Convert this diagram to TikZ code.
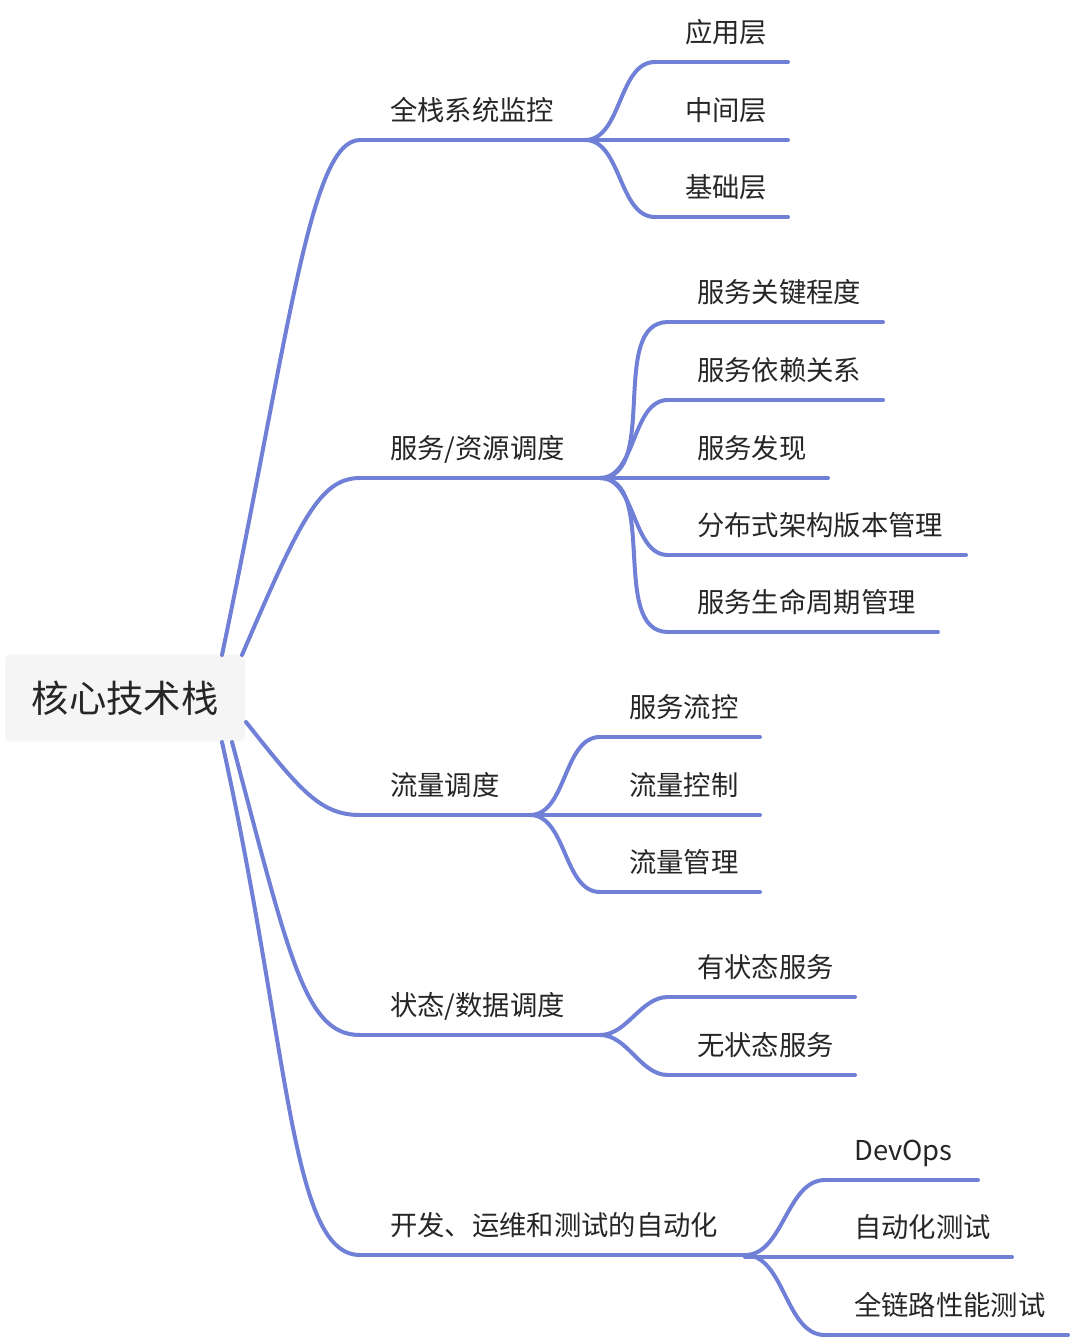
\documentclass[tikz,border=0pt]{standalone}
\usepackage{fontspec}
\setmainfont{Noto Sans CJK SC}
\definecolor{lineColor}{RGB}{112,128,214}
\definecolor{rootFill}{RGB}{245,245,245}
\tikzset{
  edge/.style = {color=lineColor, line width=3pt, line cap=round},
  itemText/.style = {font=\fontsize{20.5}{24}\selectfont, anchor=base west, inner sep=0pt, text=black!85},
  rootBox/.style = {fill=rootFill, rounded corners=4pt, font=\fontsize{28}{32}\selectfont, text=black!85}
}
% #1 name, #2 label, #3 x start, #4 x end, #5 y, #6 text x
\newcommand{\branch}[6]{
  \coordinate (#1-s) at (#3,#5);
  \coordinate (#1-e) at (#4,#5);
  \node [itemText] (#1) at (#6, #5 - 20) {#2};
  \draw [edge] (#1-s) -- (#1-e);
}
\newcommand{\link}[2]{\draw [edge] (#1-e) to[out=0, in=180, looseness=0.9] (#2-s);}
\begin{document}
\begin{tikzpicture}[x=0.75pt, y=-0.75pt]
  \useasboundingbox (0,0) rectangle (1070,1340);
  \node [rootBox, minimum width=180pt, minimum height=65pt] (root) at (125,698) {核心技术栈};

  % level one
  \branch{mon}{全栈系统监控}{360}{585}{140}{390}
  \branch{svc}{服务/资源调度}{360}{600}{478}{390}
  \branch{flow}{流量调度}{360}{530}{815}{390}
  \branch{state}{状态/数据调度}{360}{600}{1035}{390}
  \branch{auto}{开发、运维和测试的自动化}{360}{745}{1255}{390}

  \coordinate (r1) at (222,655);
  \coordinate (r2) at (242,655);
  \coordinate (r3) at (246,722);
  \coordinate (r4) at (232,742);
  \coordinate (r5) at (222,742);
  \draw [edge] (r1) .. controls (290,330) and (310,140) .. (mon-s);
  \draw [edge] (r2) .. controls (300,520) and (320,478) .. (svc-s);
  \draw [edge] (r3) .. controls (300,790) and (320,815) .. (flow-s);
  \draw [edge] (r4) .. controls (290,960) and (305,1035) .. (state-s);
  \draw [edge] (r5) .. controls (290,1050) and (290,1255) .. (auto-s);

  % level two
  \branch{app}{应用层}{655}{788}{62}{685}
  \branch{mid}{中间层}{585}{788}{140}{685}
  \branch{base}{基础层}{655}{788}{217}{685}
  \link{mon}{app} \link{mon}{base}

  \branch{key}{服务关键程度}{668}{883}{322}{697}
  \branch{dep}{服务依赖关系}{668}{883}{400}{697}
  \branch{disc}{服务发现}{600}{828}{478}{697}
  \branch{ver}{分布式架构版本管理}{668}{966}{555}{697}
  \branch{life}{服务生命周期管理}{668}{938}{632}{697}
  \link{svc}{key} \link{svc}{dep} \link{svc}{ver} \link{svc}{life}

  \branch{fc}{服务流控}{600}{760}{737}{629}
  \branch{ctl}{流量控制}{530}{760}{815}{629}
  \branch{mgr}{流量管理}{600}{760}{892}{629}
  \link{flow}{fc} \link{flow}{mgr}

  \branch{sf}{有状态服务}{668}{855}{997}{697}
  \branch{sl}{无状态服务}{668}{855}{1075}{697}
  \link{state}{sf} \link{state}{sl}

  \branch{dev}{DevOps}{825}{978}{1180}{854}
  \branch{test}{自动化测试}{745}{1012}{1257}{854}
  \branch{perf}{全链路性能测试}{825}{1068}{1335}{854}
  \link{auto}{dev} \link{auto}{perf}
\end{tikzpicture}
\end{document}
